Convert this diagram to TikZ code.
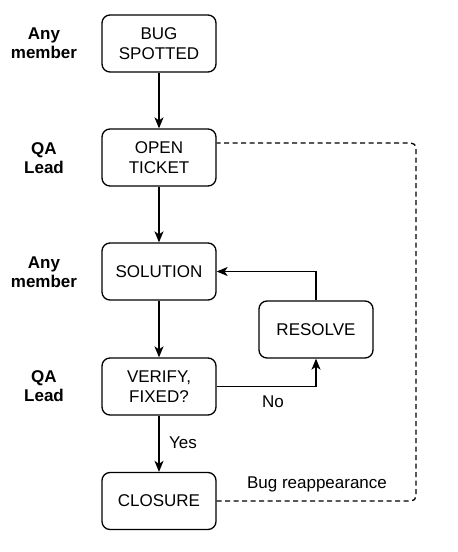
\documentclass[tikz,border=0pt]{standalone}
\usepackage{fontspec}
\setmainfont{Liberation Sans}
\usetikzlibrary{arrows.meta,calc}
\begin{document}
\begin{tikzpicture}[x=1pt,y=-1pt,
  box/.style={draw, line width=1.3pt, rounded corners=8pt, minimum width=114pt, minimum height=57pt, align=center, inner sep=0pt, font=\fontsize{17}{20.5}\selectfont},
  role/.style={align=center, font=\fontsize{17}{19.5}\selectfont\bfseries},
  elabel/.style={font=\fontsize{17}{20.5}\selectfont},
  conn/.style={line width=1.3pt, -{Stealth[length=11pt,width=9pt,inset=3pt]}},
  dashconn/.style={line width=1.3pt, dash pattern=on 5pt off 3.5pt, rounded corners=5pt}]
\useasboundingbox (0,0) rectangle (458,552);
% boxes
\node[box] (bug) at (159,43.5) {BUG\\SPOTTED};
\node[box] (open) at (159,157.5) {OPEN\\TICKET};
\node[box] (sol) at (159,271.5) {SOLUTION};
\node[box] (res) at (316,329.5) {RESOLVE};
\node[box] (ver) at (159,386.5) {VERIFY,\\FIXED?};
\node[box] (clo) at (159,501) {CLOSURE};
% roles
\node[role] (r1) at (44,43) {Any\\member};
\node[role] (r2) at (44,158) {QA\\Lead};
\node[role] (r3) at (44,272) {Any\\member};
\node[role] (r4) at (44,386) {QA\\Lead};
% connectors
\draw[conn] (bug) -- (open);
\draw[conn] (open) -- (sol);
\draw[conn] (sol) -- (ver);
\draw[conn] (ver) -- (clo);
\node[elabel] (yes) at (183,443) {Yes};
\draw[conn] (ver.east) -- (ver.east -| res.south) -- (res.south);
\node[elabel] (no) at (273,402) {No};
\draw[conn] (res.north) -- (res.north |- sol.east) -- (sol.east);
% dashed loop
\coordinate (dj) at ([yshift=14.5pt]open.east);
\coordinate (dc) at (416,300);
\draw[dashconn] (clo.east) -- (clo.east -| dc) -- (dj -| dc) -- (dj);
\node[elabel] (bugre) at (317,484) {Bug reappearance};
\end{tikzpicture}
\end{document}
